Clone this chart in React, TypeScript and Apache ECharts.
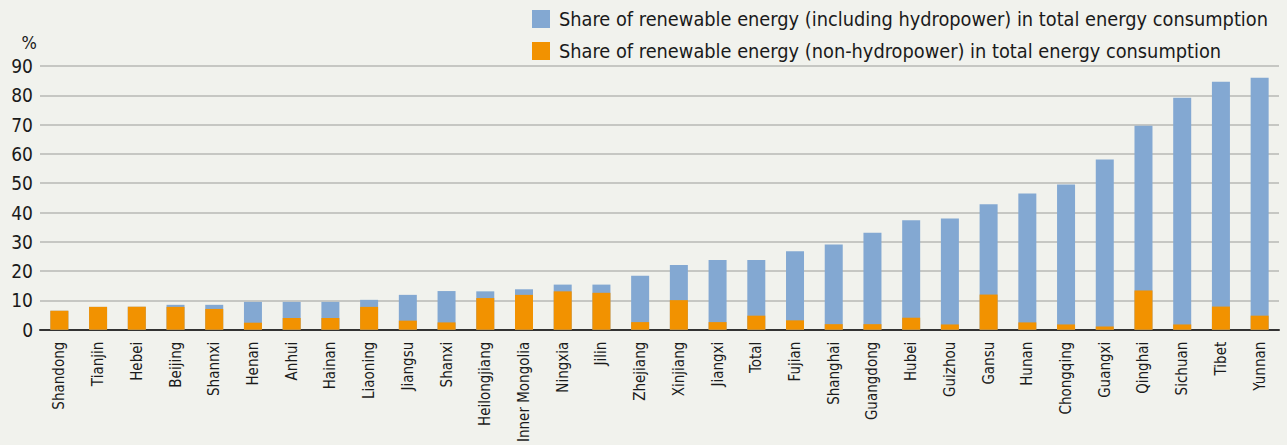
import React, { useEffect, useRef } from "react";
import * as echarts from "echarts";

const categories = [
  "Shandong", "Tianjin", "Hebei", "Beijing", "Shannxi", "Henan", "Anhui", "Hainan",
  "Liaoning", "Jiangsu", "Shanxi", "Heilongjiang", "Inner Mongolia", "Ningxia", "Jilin",
  "Zhejiang", "Xinjiang", "Jiangxi", "Total", "Fujian", "Shanghai", "Guangdong", "Hubei",
  "Guizhou", "Gansu", "Hunan", "Chongqing", "Guangxi", "Qinghai", "Sichuan", "Tibet", "Yunnan",
];

const includingHydro = [
  6.5, 7.8, 7.8, 8.5, 8.5, 9.5, 9.5, 9.5,
  10.2, 11.9, 13.2, 13.1, 13.8, 15.4, 15.4,
  18.4, 22.1, 23.8, 23.8, 26.8, 29.1, 33.1, 37.4,
  38.0, 42.8, 46.5, 49.6, 58.1, 69.6, 79.2, 84.6, 86.0,
];

const nonHydro = [
  6.5, 7.8, 7.8, 7.8, 7.1, 2.4, 4.0, 4.0,
  7.8, 3.1, 2.5, 10.8, 11.9, 13.1, 12.6,
  2.6, 10.1, 2.6, 4.8, 3.2, 1.9, 1.9, 4.1,
  1.8, 12.0, 2.5, 1.8, 1.1, 13.4, 1.8, 7.9, 4.8,
];

const yTicks = { min: 0, max: 90, interval: 10 };

const seriesNames = [
  "Share of renewable energy (including hydropower) in total energy consumption",
  "Share of renewable energy (non-hydropower) in total energy consumption",
];

const FONT = "'DejaVu Sans Condensed', 'Liberation Sans Narrow', 'Open Sans', sans-serif";
const BG = "#f1f2ed";

export default function App() {
  const ref = useRef<HTMLDivElement>(null);

  useEffect(() => {
    document.body.style.margin = "0";
    document.body.style.background = BG;
    if (!ref.current) return;
    const chart = echarts.init(ref.current, null, { renderer: "svg" });
    chart.setOption({
      animation: false,
      backgroundColor: BG,
      textStyle: { fontFamily: FONT, color: "#1a1a1a" },
      legend: {
        orient: "vertical",
        left: 532,
        top: 9,
        padding: 0,
        itemWidth: 18,
        itemHeight: 18,
        itemGap: 12,
        icon: "rect",
        selectedMode: false,
        data: seriesNames,
        textStyle: {
          fontFamily: FONT,
          fontSize: 19.8,
          lineHeight: 18,
          color: "#1a1a1a",
          padding: [0, 0, 0, 4],
        },
      },
      grid: { left: 40, right: 8, top: 66, bottom: 114, containLabel: false },
      xAxis: {
        type: "category",
        data: categories,
        axisLine: { lineStyle: { color: "#333", width: 2 } },
        axisTick: { show: false },
        axisLabel: {
          rotate: 90,
          interval: 0,
          margin: 12,
          fontFamily: FONT,
          fontSize: 15,
          color: "#1a1a1a",
        },
      },
      yAxis: {
        type: "value",
        min: yTicks.min,
        max: yTicks.max,
        interval: yTicks.interval,
        name: "%",
        nameLocation: "end",
        nameGap: 15,
        nameTextStyle: {
          fontFamily: FONT,
          fontSize: 18,
          color: "#1a1a1a",
          align: "right",
          padding: [0, 3, 0, 0],
        },
        axisLine: { show: false },
        axisTick: { show: false },
        axisLabel: { fontFamily: FONT, fontSize: 19, color: "#1a1a1a", margin: 7 },
        splitLine: { lineStyle: { color: "#c6c7c3", width: 2 } },
      },
      series: [
        {
          name: seriesNames[0],
          type: "bar",
          data: includingHydro,
          barWidth: 18,
          barGap: "-100%",
          itemStyle: { color: "#83a8d2" },
        },
        {
          name: seriesNames[1],
          type: "bar",
          data: nonHydro,
          barWidth: 18,
          barGap: "-100%",
          itemStyle: { color: "#f29200" },
        },
      ],
    });
    return () => chart.dispose();
  }, []);

  return <div ref={ref} style={{ width: 1287, height: 445 }} />;
}
